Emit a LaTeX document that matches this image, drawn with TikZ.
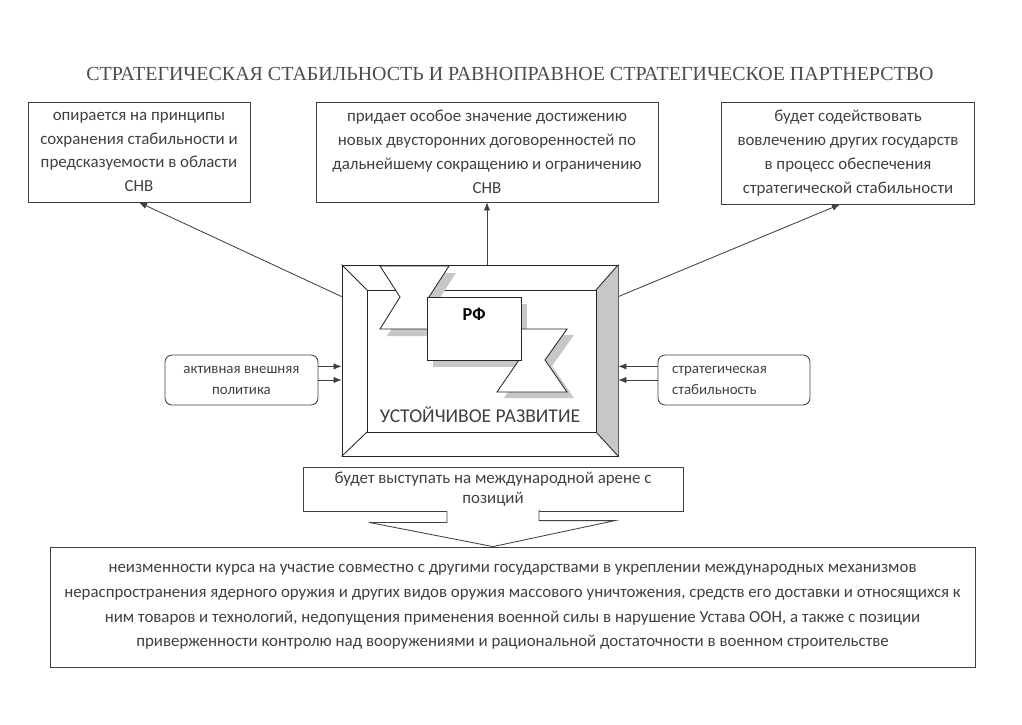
\documentclass[tikz,border=0pt]{standalone}
\usepackage{fontspec}
\setmainfont{Liberation Serif}
\setsansfont{Carlito}
\usetikzlibrary{arrows.meta,positioning}

\begin{document}
\begin{tikzpicture}[
  x=0.25mm, y=-0.25mm,
  line width=0.6pt,
  txt/.style={font=\sffamily\fontsize{12}{17}\selectfont, text=black!75},
  box/.style={draw=black!75, txt, align=center},
  roundbox/.style={box, rounded corners=5pt, font=\sffamily\fontsize{10.6}{15}\selectfont},
  arrow/.style={-{Latex[length=2mm,width=1.6mm]}, draw=black!75},
  shade/.style={fill=black!22, draw=none},
  glass/.style={draw=black!85, fill=white, line join=miter}
]
\useasboundingbox (0,0) rectangle (1022,725);

\node[font=\fontsize{14.2}{16}\selectfont, text=black!70] (title) at (510,74)
  {СТРАТЕГИЧЕСКАЯ СТАБИЛЬНОСТЬ И РАВНОПРАВНОЕ СТРАТЕГИЧЕСКОЕ ПАРТНЕРСТВО};

% upper row
\node[box, minimum width=55.5mm, minimum height=25mm] (basis) at (139,152)
  {опирается на принципы\\сохранения стабильности и\\предсказуемости в области\\СНВ};
\node[box, minimum width=85.5mm, minimum height=25mm] (treaty) at (487,152)
  {придает особое значение достижению\\новых двусторонних договоренностей по\\дальнейшему сокращению и ограничению\\СНВ};
\node[box, minimum width=63.25mm, minimum height=25.5mm] (involve) at (848,153)
  {будет содействовать\\вовлечению других государств\\в процесс обеспечения\\стратегической стабильности};

% central frame
\node[draw=black!85, fill=white, minimum width=69mm, minimum height=47.75mm] (frame) at (480,360.5) {};
\fill[black!22] (frame.north east) -- (frame.south east) -- (596,432) -- (596,290) -- cycle;
\draw[black!85] (367,290) rectangle (596,432);
\draw[black!85] (frame.north west) -- (367,290) (frame.north east) -- (596,290)
  (frame.south west) -- (367,432) (frame.south east) -- (596,432);
\node[font=\sffamily\fontsize{13.9}{15}\selectfont, text=black!75] (sustain) at (480,415) {УСТОЙЧИВОЕ РАЗВИТИЕ};

% shadows, hourglasses, RF
\fill[shade] (387,273) -- (456,273) -- (436,304) -- (456,336) -- (387,336) -- (407,304) -- cycle;
\fill[shade] (504,335) -- (574,335) -- (552,366) -- (574,398) -- (504,398) -- (526,366) -- cycle;
\fill[shade] (433,304) rectangle (527,367);
\draw[glass] (380,266) -- (449,266) -- (429,297) -- (449,329) -- (380,329) -- (400,297) -- cycle;
\draw[glass] (497,329) -- (567,329) -- (545,360) -- (567,392) -- (497,392) -- (519,360) -- cycle;
\node[draw=black!85, fill=white, minimum width=23.5mm, minimum height=15.75mm] (rf) at (474,328.5) {};
\node[font=\sffamily\bfseries\fontsize{13}{15}\selectfont] (rflabel) at (474,314) {РФ};

\draw[arrow] ([yshift=-8mm]frame.north west) -- (basis.south);
\draw[arrow] (treaty.south |- frame.north) -- (treaty.south);
\draw[arrow] ([yshift=-8mm]frame.north east) -- ([xshift=-2mm]involve.south);

% side boxes
\node[roundbox, minimum width=38.25mm, minimum height=12.5mm] (policy) at (241.5,380)
  {активная внешняя\\политика};
\node[roundbox, text width=31mm, align=left, inner xsep=3.5mm, minimum height=12.5mm] (stability) at (734,380)
  {стратегическая\\стабильность};
\draw[arrow] ([yshift=3.4mm]policy.east) -- ([yshift=3.4mm]policy.east -| frame.west);
\draw[arrow] (policy.east) -- (policy.east -| frame.west);
\draw[arrow] ([yshift=3.4mm]stability.west) -- ([yshift=3.4mm]stability.west -| frame.east);
\draw[arrow] (stability.west) -- (stability.west -| frame.east);

% lower part
\node[box, font=\sffamily\fontsize{12}{14.5}\selectfont, minimum width=95mm, minimum height=11mm] (stance) at (493,489)
  {будет выступать на международной арене с\\позиций};
\node[box, font=\sffamily\fontsize{12}{17.5}\selectfont, minimum width=231.25mm, minimum height=30mm] (course) at (512.5,607)
  {неизменности курса на участие совместно с другими государствами в укреплении международных механизмов\\
   нераспространения ядерного оружия и других видов оружия массового уничтожения, средств его доставки и относящихся к\\
   ним товаров и технологий, недопущения применения военной силы в нарушение Устава ООН, а также с позиции\\
   приверженности контролю над вооружениями и рациональной достаточности в военном строительстве};
\fill[white] ([xshift=-11.5mm,yshift=0.5mm]stance.south) -- ++(0,12) -- ++(-78,0) -- (stance.south |- course.north)
  -- ++(122,-26) -- ++(-76,0) -- ++(0,-12) -- cycle;
\draw[black!75] ([xshift=-11.5mm]stance.south) -- ++(0,11) -- ++(-78,0) -- (stance.south |- course.north)
  -- ++(122,-26) -- ++(-76,0) -- ++(0,-11);
\end{tikzpicture}
\end{document}
